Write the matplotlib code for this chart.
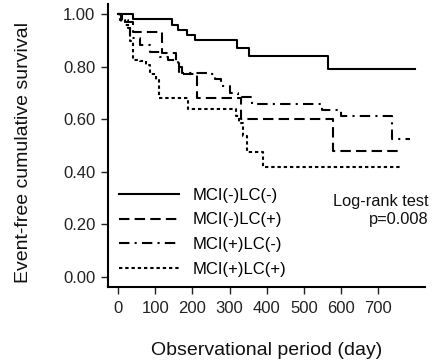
import matplotlib
matplotlib.use("Agg")
import matplotlib.pyplot as plt

plt.rcParams["font.family"] = ["Liberation Sans", "DejaVu Sans"]

# step data (time in days, survival after each step)
grp1_t = [0, 40, 144, 162, 186, 207, 319, 353, 565, 800]
grp1_s = [1.00, 0.98, 0.96, 0.94, 0.92, 0.90, 0.87, 0.84, 0.79, 0.79]

grp2_t = [0, 8, 40, 118, 155, 165, 213, 330, 579, 763]
grp2_s = [1.00, 0.97, 0.93, 0.85, 0.82, 0.77, 0.68, 0.60, 0.48, 0.48]

grp3_t = [0, 9, 27, 32, 58, 85, 112, 135, 162, 171, 242, 260, 278, 301, 322, 359, 548, 601, 736, 785]
grp3_s = [1.00, 0.978, 0.946, 0.908, 0.883, 0.857, 0.836, 0.826, 0.80, 0.775, 0.772, 0.752,
          0.727, 0.699, 0.686, 0.658, 0.635, 0.61, 0.524, 0.524]

grp4_t = [0, 5, 18, 32, 39, 58, 76, 85, 103, 110, 189, 316, 326, 337, 347, 390, 763]
grp4_s = [1.00, 0.978, 0.959, 0.896, 0.826, 0.82, 0.807, 0.772, 0.749, 0.682, 0.638,
          0.61, 0.587, 0.534, 0.476, 0.419, 0.419]

labels = ["MCI(-)LC(-)", "MCI(-)LC(+)", "MCI(+)LC(-)", "MCI(+)LC(+)"]
x_ticks = [0, 100, 200, 300, 400, 500, 600, 700]
y_ticks = [0.0, 0.2, 0.4, 0.6, 0.8, 1.0]

fig = plt.figure(figsize=(4.33, 3.64), dpi=100)
ax = fig.add_axes([0.249, 0.2115, 0.7325, 0.7775])

lw = 1.5
ax.step(grp1_t, grp1_s, where="post", color="black", lw=lw, ls="-", label=labels[0])
ax.step(grp2_t, grp2_s, where="post", color="black", lw=lw, ls=(0, (5, 2.5)), label=labels[1])
ax.step(grp3_t, grp3_s, where="post", color="black", lw=lw, ls=(0, (5, 2.5, 1, 2.5)), label=labels[2])
ax.step(grp4_t, grp4_s, where="post", color="black", lw=lw, ls=(0, (1.6, 1.4)), label=labels[3])

ax.set_xlim(-28, 826)
ax.set_ylim(-0.039, 1.038)
ax.set_xticks(x_ticks)
ax.set_yticks(y_ticks)
ax.set_yticklabels([f"{v:.2f}" for v in y_ticks])

for side in ("top", "right"):
    ax.spines[side].set_visible(False)
for side in ("left", "bottom"):
    ax.spines[side].set_linewidth(1.5)
ax.tick_params(direction="out", length=5, width=1, labelsize=12, colors="#222222")
ax.tick_params(axis="x", pad=5)
ax.tick_params(axis="y", pad=4)

ax.set_xlabel("Observational period (day)", fontsize=14, labelpad=19, color="#111111")
ax.set_ylabel("Event-free cumulative survival", fontsize=14, color="#111111")
ax.yaxis.set_label_coords(-0.24, 0.477)

leg = ax.legend(loc="lower left", bbox_to_anchor=(0.0, -0.005), frameon=False, fontsize=12,
                handlelength=3.6, handletextpad=0.8, labelspacing=0.58, borderaxespad=0.3)

ax.text(1.01, 0.33, "Log-rank test\np=0.008", transform=ax.transAxes, ha="right", va="top",
        fontsize=11.8, linespacing=1.3, color="#111111")

fig.savefig("out.png", dpi=100)
